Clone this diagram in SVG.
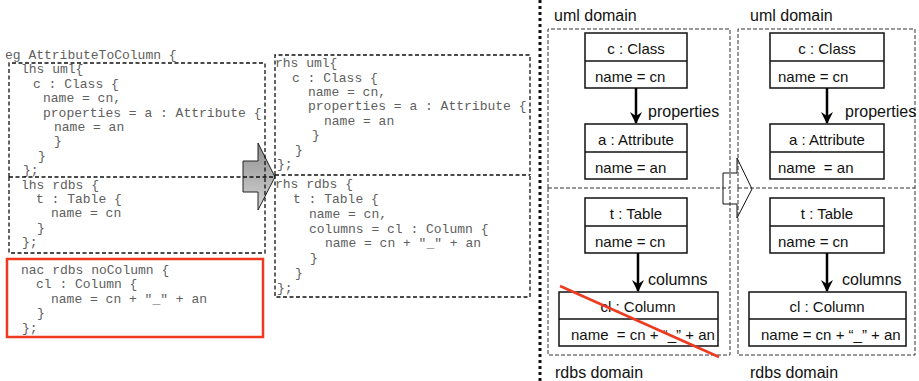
<svg xmlns="http://www.w3.org/2000/svg" width="919" height="381" viewBox="0 0 919 381">
<style>
.code{font-family:"Liberation Mono","DejaVu Sans Mono",monospace;font-size:13px;fill:#606060;white-space:pre}
.lbl{font-family:"Liberation Sans",Arial,sans-serif;font-size:16px;fill:#111}
.bt{font-family:"Liberation Sans",Arial,sans-serif;font-size:15px;fill:#111;white-space:pre}
.mid{text-anchor:middle}
.cbox{fill:none;stroke:#111;stroke-width:1.3;stroke-dasharray:4,2.5}
.dbox{fill:none;stroke:#333;stroke-width:1;stroke-dasharray:4,2}
.ubox{fill:#fff;stroke:#111;stroke-width:1.5}
.div{stroke:#111;stroke-width:1.5}
.edge{stroke:#000;stroke-width:2.5;fill:none}
</style>
<defs>
<linearGradient id="g" x1="0" y1="0" x2="0" y2="1">
<stop offset="0" stop-color="#8f8f8f"/>
<stop offset="1" stop-color="#d4d4d4"/>
</linearGradient>
<marker id="ah" viewBox="0 0 12 12" refX="11" refY="6" markerWidth="12" markerHeight="12" markerUnits="userSpaceOnUse" orient="auto">
<path d="M0,0 L12,6 L0,12 L4,6 Z" fill="#000"/>
</marker>
</defs>

<!-- transformation arrows -->
<polygon id="bigArrow" points="243,161 258,161 258,143 275,177 258,210 258,192 243,192" fill="url(#g)" stroke="#222" stroke-width="1"/>
<polygon id="openArrow" points="723,173 737,173 737,158 752,189 737,218 737,204 723,204" fill="#fff" stroke="#111" stroke-width="1"/>

<!-- left code -->
<g id="code-lhs">
<text class="code" x="5" y="59">eg AttributeToColumn {</text>
<path class="cbox" d="M9,177 V63 H265 V177"/>
<text class="code" x="21" y="73">lhs uml{</text>
<text class="code" x="33" y="88">c : Class {</text>
<text class="code" x="43" y="102">name = cn,</text>
<text class="code" x="43" y="117">properties = a : Attribute {</text>
<text class="code" x="54" y="131">name = an</text>
<text class="code" x="54" y="145">}</text>
<text class="code" x="38" y="160">}</text>
<text class="code" x="23" y="174">};</text>
<path class="cbox" d="M9,177 V253 H265 V177"/>
<line x1="9" y1="177" x2="275" y2="177" class="cbox"/>
<text class="code" x="21" y="189">lhs rdbs {</text>
<text class="code" x="36" y="203">t : Table {</text>
<text class="code" x="51" y="217">name = cn</text>
<text class="code" x="37" y="232">}</text>
<text class="code" x="22" y="246">};</text>
</g>
<g id="code-nac">
<rect x="7" y="259" width="256" height="78" fill="none" stroke="#ee3a1f" stroke-width="2.5"/>
<text class="code" x="21" y="274">nac rdbs noColumn {</text>
<text class="code" x="36" y="288">cl : Column {</text>
<text class="code" x="51" y="303">name = cn + "_" + an</text>
<text class="code" x="37" y="317">}</text>
<text class="code" x="22" y="332">};</text>
</g>
<g id="code-rhs">
<path class="cbox" d="M275,175 V55 H530 V175"/>
<path class="cbox" d="M275,175 V297 H530 V175"/>
<line class="cbox" x1="275" y1="175" x2="530" y2="175"/>
<text class="code" x="275" y="67">rhs uml{</text>
<text class="code" x="292" y="82">c : Class {</text>
<text class="code" x="308" y="96">name = cn,</text>
<text class="code" x="308" y="110">properties = a : Attribute {</text>
<text class="code" x="324" y="125">name = an</text>
<text class="code" x="312" y="139">}</text>
<text class="code" x="295" y="154">}</text>
<text class="code" x="277" y="168">};</text>
<text class="code" x="275" y="188">rhs rdbs {</text>
<text class="code" x="293" y="203">t : Table {</text>
<text class="code" x="309" y="218">name = cn,</text>
<text class="code" x="309" y="233">columns = cl : Column {</text>
<text class="code" x="325" y="247">name = cn + "_" + an</text>
<text class="code" x="310" y="262">}</text>
<text class="code" x="295" y="277">}</text>
<text class="code" x="277" y="292">};</text>
</g>

<line id="separator" x1="540" y1="0" x2="540" y2="381" stroke="#111" stroke-width="3" stroke-dasharray="3,3"/>

<!-- domain panels -->
<g id="domains">
<path class="dbox" d="M548,188 V29 H730 V188"/>
<path class="dbox" d="M548,188 V355 H730 V188"/>
<line class="dbox" x1="548" y1="188" x2="730" y2="188"/>
<path class="dbox" d="M738,188 V29 H915 V188"/>
<path class="dbox" d="M738,188 V355 H915 V188"/>
<line class="dbox" x1="738" y1="188" x2="915" y2="188"/>
<text class="lbl" x="554" y="21">uml domain</text>
<text class="lbl" x="750" y="21">uml domain</text>
<text class="lbl" x="555" y="378">rdbs domain</text>
<text class="lbl" x="750" y="378">rdbs domain</text>
</g>

<!-- left pattern nodes -->
<g id="L-class">
<rect class="ubox" x="585" y="33" width="102" height="55"/>
<line class="div" x1="585" y1="61" x2="687" y2="61"/>
<text class="bt mid" x="636" y="54">c : Class</text>
<text class="bt" x="595" y="82">name = cn</text>
</g>
<g id="L-attr">
<rect class="ubox" x="585" y="124" width="102" height="55"/>
<line class="div" x1="585" y1="152" x2="687" y2="152"/>
<text class="bt mid" x="636" y="145">a : Attribute</text>
<text class="bt" x="595" y="173">name = an</text>
</g>
<g id="L-table">
<rect class="ubox" x="585" y="198" width="102" height="55"/>
<line class="div" x1="585" y1="226" x2="687" y2="226"/>
<text class="bt mid" x="636" y="219">t : Table</text>
<text class="bt" x="595" y="247">name = cn</text>
</g>
<g id="L-column">
<rect class="ubox" x="559" y="292" width="159" height="54"/>
<line class="div" x1="559" y1="319" x2="718" y2="319"/>
<text class="bt mid" x="638" y="312">cl : Column</text>
<text class="bt" x="571" y="340">name  = cn + “_” + an</text>
</g>

<!-- right pattern nodes -->
<g id="R-class">
<rect class="ubox" x="770" y="33" width="114" height="55"/>
<line class="div" x1="770" y1="61" x2="884" y2="61"/>
<text class="bt mid" x="827" y="54">c : Class</text>
<text class="bt" x="778" y="82">name = cn</text>
</g>
<g id="R-attr">
<rect class="ubox" x="770" y="124" width="114" height="55"/>
<line class="div" x1="770" y1="152" x2="884" y2="152"/>
<text class="bt mid" x="827" y="145">a : Attribute</text>
<text class="bt" x="778" y="173">name  = an</text>
</g>
<g id="R-table">
<rect class="ubox" x="770" y="198" width="114" height="55"/>
<line class="div" x1="770" y1="226" x2="884" y2="226"/>
<text class="bt mid" x="827" y="219">t : Table</text>
<text class="bt" x="778" y="247">name = cn</text>
</g>
<g id="R-column">
<rect class="ubox" x="749" y="292" width="157" height="54"/>
<line class="div" x1="749" y1="319" x2="906" y2="319"/>
<text class="bt mid" x="827" y="312">cl : Column</text>
<text class="bt" x="761" y="340">name = cn + “_” + an</text>
</g>

<g id="connectors">
<line class="edge" x1="636" y1="88" x2="636" y2="123" marker-end="url(#ah)"/>
<line class="edge" x1="638" y1="253" x2="638" y2="291" marker-end="url(#ah)"/>
<line class="edge" x1="827" y1="88" x2="827" y2="123" marker-end="url(#ah)"/>
<line class="edge" x1="827" y1="253" x2="827" y2="291" marker-end="url(#ah)"/>
<text class="lbl" x="648" y="117">properties</text>
<text class="lbl" x="845" y="117">properties</text>
<text class="lbl" x="648" y="285">columns</text>
<text class="lbl" x="842" y="285">columns</text>
</g>

<line id="nacCross" x1="560" y1="286" x2="719" y2="357" stroke="#ee3a1f" stroke-width="2.5"/>
</svg>
